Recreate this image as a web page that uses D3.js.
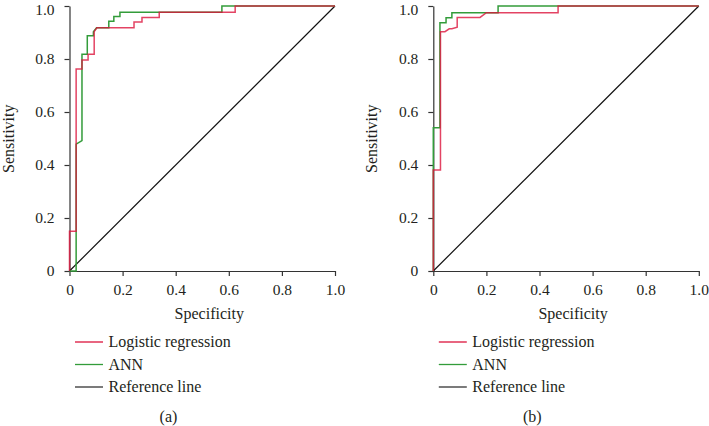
<!DOCTYPE html>
<html>
<head>
<meta charset="utf-8">
<script src="https://cdn.jsdelivr.net/npm/d3@7"></script>
<style>
  body { margin: 0; background: #fff; }
  text { font-family: "Liberation Serif", "Times New Roman", serif; fill: #231f20; }
</style>
</head>
<body>
<script>
// ROC points [1 - specificity, sensitivity]
var logisticA = [[0,0],[0,0.15],[0.025,0.15],[0.025,0.762],[0.047,0.762],[0.047,0.796],[0.07,0.796],[0.07,0.818],
    [0.093,0.818],[0.093,0.903],[0.103,0.918],[0.243,0.918],[0.243,0.94],[0.273,0.94],[0.273,0.957],[0.338,0.957],
    [0.338,0.976],[0.624,0.976],[0.624,1],[1,1]];
var annA = [[0,0],[0.025,0],[0.025,0.479],[0.047,0.492],[0.047,0.818],[0.067,0.818],[0.067,0.888],[0.09,0.888],
    [0.09,0.903],[0.102,0.918],[0.148,0.918],[0.148,0.942],[0.167,0.942],[0.167,0.96],[0.19,0.96],[0.19,0.976],
    [0.574,0.976],[0.574,1],[1,1]];
var logisticB = [[0,0],[0,0.381],[0.027,0.381],[0.027,0.903],[0.044,0.903],[0.06,0.914],[0.07,0.914],[0.09,0.92],
    [0.09,0.957],[0.176,0.957],[0.2,0.975],[0.47,0.975],[0.47,1],[1,1]];
var annB = [[0,0],[0,0.541],[0.025,0.541],[0.025,0.937],[0.048,0.937],[0.048,0.956],[0.07,0.956],[0.07,0.975],
    [0.244,0.975],[0.244,1],[1,1]];
var referenceLine = [[0,0],[1,1]];

var ticks = [0, 0.2, 0.4, 0.6, 0.8, 1.0];
var legendLabels = ["Logistic regression", "ANN", "Reference line"];
var panelLabels = ["(a)", "(b)"];

var colors = {lr: "#dc143c", ann: "#339c3a", ref: "#111"};

var svg = d3.select("body").append("svg")
    .attr("width", 709)
    .attr("height", 426);

var panels = [
    {x0: 69.5, lr: logisticA, ann: annA, label: panelLabels[0]},
    {x0: 433.3, lr: logisticB, ann: annB, label: panelLabels[1]}
];

var size = 265.5, topY = 6;

panels.forEach(function(p){
    var g = svg.append("g").attr("transform", "translate(" + p.x0 + "," + topY + ")");

    var x = d3.scaleLinear().domain([0, 1]).range([0, size]);
    var y = d3.scaleLinear().domain([0, 1]).range([size - 0.5, 0]);
    var fmt = function(d){ return d === 0 ? "0" : d.toFixed(1); };

    // axes
    var xa = g.append("g")
        .attr("transform", "translate(0," + (size - 0.5) + ")")
        .call(d3.axisBottom(x).tickValues(ticks).tickFormat(fmt).tickSize(5).tickSizeOuter(0).tickPadding(8));
    var ya = g.append("g")
        .call(d3.axisLeft(y).tickValues(ticks).tickFormat(fmt).tickSize(5).tickSizeOuter(0).tickPadding(10));
    [xa, ya].forEach(function(a){
        a.selectAll("path, line").attr("stroke", "#333").attr("stroke-width", 1.2);
        a.selectAll("text").attr("font-size", 15.5).attr("font-family", "Liberation Serif").attr("fill", "#231f20");
    });
    // keep the top label inside the picture
    ya.selectAll(".tick text").filter(function(d){ return d === 1; }).attr("dy", "0.56em");

    var line = d3.line().x(function(d){ return x(d[0]); }).y(function(d){ return y(d[1]); });

    // curves
    g.append("path").datum(referenceLine).attr("d", line)
        .attr("fill", "none").attr("stroke", colors.ref).attr("stroke-width", 1.2);
    g.append("path").datum(p.ann).attr("d", line)
        .attr("fill", "none").attr("stroke", colors.ann).attr("stroke-width", 1.5);
    g.append("path").datum(p.lr).attr("d", line)
        .attr("fill", "none").attr("stroke", colors.lr).attr("stroke-width", 1.5).attr("stroke-opacity", 0.8);

    // axis titles
    g.append("text")
        .text("Specificity")
        .attr("x", size / 2 + 7)
        .attr("y", size + 47)
        .attr("font-size", 16)
        .style("text-anchor", "middle");
    g.append("text")
        .text("Sensitivity")
        .attr("transform", "translate(" + (-56) + "," + (size / 2) + ") rotate(-90)")
        .attr("font-size", 16)
        .style("text-anchor", "middle");

    // legend
    var legendColors = [colors.lr, colors.ann, "#333"];
    legendLabels.forEach(function(lab, i){
        var ly = 342 + i * 22.5 - topY;
        g.append("line")
            .attr("x1", 5.5).attr("x2", 33.5)
            .attr("y1", ly).attr("y2", ly)
            .attr("stroke", legendColors[i]).attr("stroke-width", 1.3);
        g.append("text")
            .text(lab)
            .attr("x", 39)
            .attr("y", ly + 5)
            .attr("font-size", 16);
    });

    g.append("text")
        .text(p.label)
        .attr("x", 99)
        .attr("y", 422 - topY)
        .attr("font-size", 16)
        .style("text-anchor", "middle");
});
</script>
</body>
</html>
